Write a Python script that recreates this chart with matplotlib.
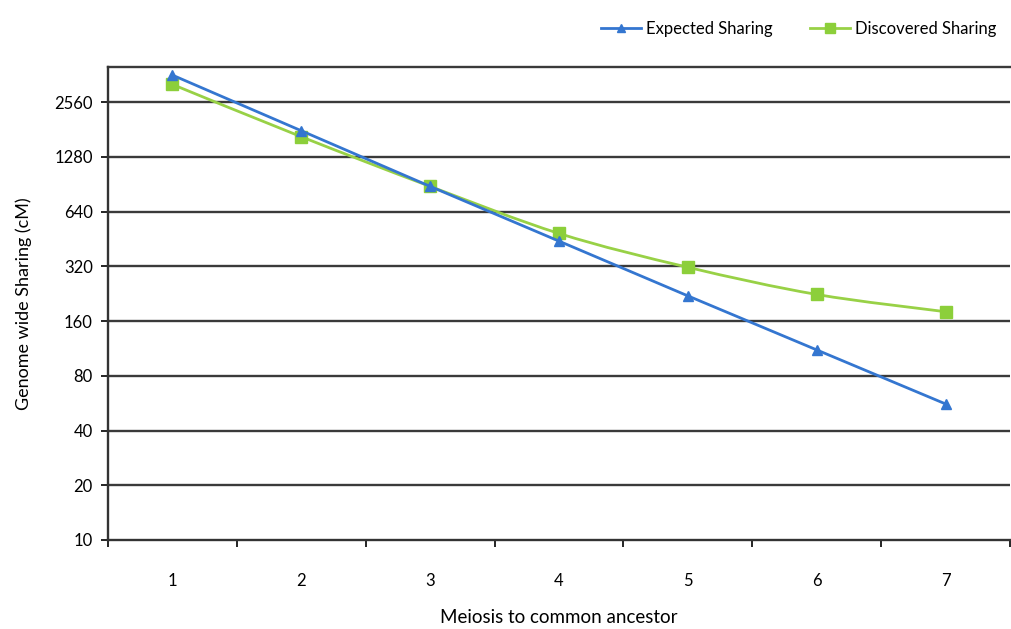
import matplotlib
matplotlib.use("Agg")
import matplotlib.pyplot as plt
import numpy as np
from matplotlib.path import Path
from matplotlib.patches import PathPatch
from matplotlib.lines import Line2D

plt.rcParams['font.family'] = ['Lato', 'DejaVu Sans']

meiosis = [1, 2, 3, 4, 5, 6, 7]
expected = [3600, 1780, 880, 440, 220, 111, 56]
discovered = [3200, 1650, 880, 485, 316, 224, 180]
yticks = [10, 20, 40, 80, 160, 320, 640, 1280, 2560]

BLUE = "#3476d0"
GREEN = "#98d146"


def smooth_path(xs, ys):
    # Catmull-Rom style bezier like spreadsheet "smoothed line", in log2 space
    px = np.array(xs, float)
    py = np.log2(np.array(ys, float))
    verts = [(px[0], py[0])]
    codes = [Path.MOVETO]
    n = len(px)
    for i in range(n - 1):
        p0 = (px[i - 1], py[i - 1]) if i > 0 else (px[i], py[i])
        p1 = (px[i], py[i])
        p2 = (px[i + 1], py[i + 1])
        p3 = (px[i + 2], py[i + 2]) if i + 2 < n else p2
        c1 = (p1[0] + (p2[0] - p0[0]) / 6, p1[1] + (p2[1] - p0[1]) / 6)
        c2 = (p2[0] - (p3[0] - p1[0]) / 6, p2[1] - (p3[1] - p1[1]) / 6)
        verts += [c1, c2, p2]
        codes += [Path.CURVE4] * 3
    verts = [(vx, 2 ** vy) for vx, vy in verts]
    return Path(verts, codes)


fig = plt.figure(figsize=(10.11, 6.29), dpi=100)
ax = fig.add_axes([108 / 1011, 89 / 629, 902 / 1011, 473 / 629])
ax.set_yscale("log", base=2)
ax.set_ylim(10, 3990)
ax.set_xlim(0.5, 7.5)

ax.set_yticks(yticks)
ax.set_yticklabels([str(t) for t in yticks])
ax.yaxis.set_minor_locator(matplotlib.ticker.NullLocator())
ax.set_xticks(meiosis)
ax.set_xticklabels([str(m) for m in meiosis])
ax.set_xticks(np.arange(0.5, 7.6, 1), minor=True)
ax.tick_params(axis="x", which="major", length=0, pad=24, labelsize=12)
ax.tick_params(axis="x", which="minor", length=5, width=1.2, direction="out")
ax.tick_params(axis="y", length=5, width=1.2, direction="out", labelsize=12, pad=6)

for t in yticks[1:]:
    ax.axhline(t, color="#3a3a3a", lw=1.7, zorder=1)
ax.axhline(3990, color="#3a3a3a", lw=1.7, zorder=1, clip_on=False)

for s in ["top", "right"]:
    ax.spines[s].set_visible(False)
ax.spines["left"].set_linewidth(1.7)
ax.spines["bottom"].set_linewidth(1.7)
ax.spines["left"].set_color("#333333")
ax.spines["bottom"].set_color("#333333")

ax.plot(meiosis, expected, color=BLUE, lw=2, marker="^", ms=7, mfc=BLUE, mec=BLUE, zorder=3)
ax.add_patch(PathPatch(smooth_path(meiosis, discovered), fc="none", ec=GREEN, lw=2, zorder=2))
ax.plot(meiosis, discovered, ls="none", marker="s", ms=8, mfc="#8ccf3a", mec="#8ccf3a", zorder=2.5)

ax.set_ylabel("Genome wide Sharing (cM)", fontsize=13, labelpad=16)
ax.set_xlabel("Meiosis to common ancestor", fontsize=13.5, labelpad=14)

handles = [Line2D([], [], color=BLUE, lw=2, marker="^", ms=6, mfc=BLUE, mec=BLUE),
           Line2D([], [], color=GREEN, lw=2, marker="s", ms=7, mfc="#8ccf3a", mec="#8ccf3a")]
fig.legend(handles, ["Expected Sharing", "Discovered Sharing"], loc="upper right",
           bbox_to_anchor=(1.0, 0.99), ncol=2, frameon=False, fontsize=12,
           handlelength=2.4, columnspacing=2.2, handletextpad=0.3)

fig.savefig("out.png", dpi=100)
